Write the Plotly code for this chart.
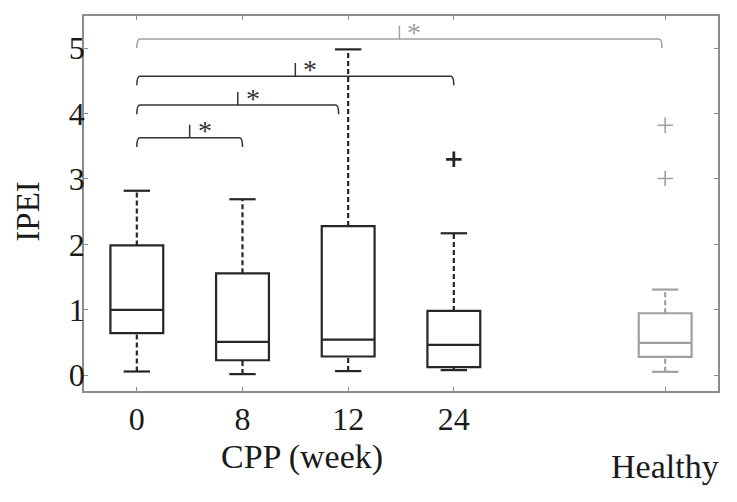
import plotly.graph_objects as go

# ---------------- data ----------------
groups = ["0", "8", "12", "24", "Healthy"]
positions = [1, 2, 3, 4, 6]
lower_whisker = [0.058, 0.018, 0.064, 0.079, 0.053]
q1 = [0.643, 0.23, 0.287, 0.125, 0.282]
median = [1.0, 0.51, 0.546, 0.465, 0.495]
q3 = [1.985, 1.558, 2.28, 0.983, 0.948]
upper_whisker = [2.82, 2.69, 4.98, 2.17, 1.31]
outliers = [[], [], [], [3.30], [3.82, 3.006]]
is_healthy = [False, False, False, False, True]

tick_vals = [1, 2, 3, 4, 6]
tick_text = ["0", "8", "12", "24", ""]

# significance brackets
bracket_left = [1, 1, 1, 1]
bracket_right = [2, 2.91, 4, 5.97]
bracket_y = [3.63, 4.13, 4.57, 5.14]
bracket_gray = [False, False, False, True]
bracket_label = ["*", "*", "*", "*"]

# ---------------- style ----------------
DARK = "#262626"
GRAY = "#a0a0a0"
AXIS = "#8c8c8c"
FONT = "Liberation Serif"
BOX_W = 0.5
CAP_W = 0.25

fig = go.Figure()

for i, p in enumerate(positions):
    col = GRAY if is_healthy[i] else DARK
    fig.add_trace(go.Box(
        x=[p], q1=[q1[i]], median=[median[i]], q3=[q3[i]],
        lowerfence=[q1[i]], upperfence=[q3[i]],
        width=BOX_W, whiskerwidth=0, boxpoints=False,
        line=dict(color=col, width=2.2), fillcolor="rgba(0,0,0,0)",
        showlegend=False, hoverinfo="skip"))
    for a, b in [(q3[i], upper_whisker[i]), (lower_whisker[i], q1[i])]:
        fig.add_trace(go.Scatter(
            x=[p, p], y=[a, b], mode="lines",
            line=dict(color=col, width=2.2, dash="5px,3px"),
            showlegend=False, hoverinfo="skip"))
    for v in [upper_whisker[i], lower_whisker[i]]:
        fig.add_trace(go.Scatter(
            x=[p - CAP_W / 2, p + CAP_W / 2], y=[v, v], mode="lines",
            line=dict(color=col, width=2.2),
            showlegend=False, hoverinfo="skip"))
    if outliers[i]:
        fig.add_trace(go.Scatter(
            x=[p] * len(outliers[i]), y=outliers[i], mode="markers",
            marker=dict(symbol="cross-thin", size=11,
                        line=dict(color=col, width=1.6 if is_healthy[i] else 2.8)),
            showlegend=False, hoverinfo="skip"))

# brackets
DROP = 0.14
RISE = 0.2
DX = 0.03
for x0, x1, y, g, lab in zip(bracket_left, bracket_right, bracket_y, bracket_gray, bracket_label):
    col = GRAY if g else "#333333"
    xm = (x0 + x1) / 2
    path = (f"M {x0},{y - DROP} Q {x0},{y} {x0 + DX},{y} "
            f"L {x1 - DX},{y} Q {x1},{y} {x1},{y - DROP} "
            f"M {xm},{y} L {xm},{y + RISE}")
    fig.add_shape(type="path", path=path, xref="x", yref="y",
                  line=dict(color=col, width=1.5))
    fig.add_annotation(x=xm, y=y + 0.15, xref="x", yref="y", text=lab,
                       showarrow=False, xshift=15, yshift=-3,
                       font=dict(family=FONT, size=28, color=col))

fig.add_annotation(x=2.56, y=0, xref="x", yref="paper", text="CPP (week)",
                   showarrow=False, yshift=-66, yanchor="middle",
                   font=dict(family=FONT, size=34, color="#1a1a1a"))
fig.add_annotation(x=6, y=0, xref="x", yref="paper", text="Healthy",
                   showarrow=False, yshift=-75, yanchor="middle",
                   font=dict(family=FONT, size=34, color="#1a1a1a"))
fig.add_annotation(x=0, y=2.5, xref="paper", yref="y", text="IPEI",
                   showarrow=False, xshift=-56, textangle=-90,
                   xanchor="center", yanchor="middle",
                   font=dict(family=FONT, size=33, color="#1a1a1a"))

fig.update_xaxes(range=[0.5, 6.5], tickvals=tick_vals, ticktext=tick_text,
                 ticks="inside", ticklen=4, tickwidth=1.2, tickcolor=AXIS,
                 showline=True, linecolor=AXIS, linewidth=1.5, mirror="ticks",
                 showgrid=False, zeroline=False, automargin=False,
                 ticklabelstandoff=-1,
                 tickfont=dict(family=FONT, size=32, color="#1a1a1a"))
fig.update_yaxes(range=[-0.24, 5.49], tickvals=[0, 1, 2, 3, 4, 5],
                 ticks="inside", ticklen=4, tickwidth=1.2, tickcolor=AXIS,
                 showline=True, linecolor=AXIS, linewidth=1.5, mirror="ticks",
                 showgrid=False, zeroline=False, automargin=False,
                 ticklabelstandoff=-9,
                 tickfont=dict(family=FONT, size=32, color="#1a1a1a"))

# the page body adds an 8px offset; size the figure to fit the window
fig.update_layout(width=729, height=494,
                  margin=dict(l=76, r=19, t=8, b=111),
                  plot_bgcolor="white", paper_bgcolor="white",
                  showlegend=False)

fig.write_html("out.html")
